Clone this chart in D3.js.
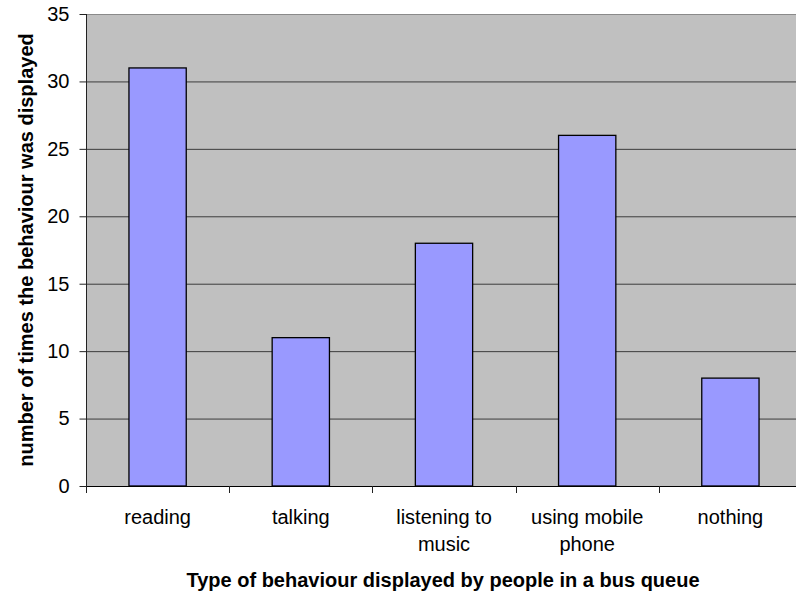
<!DOCTYPE html>
<html>
<head>
<meta charset="utf-8">
<script src="https://cdn.jsdelivr.net/npm/d3@7"></script>
<style>
  body { margin: 0; background: #fff; overflow: hidden; }
  svg { display: block; font-family: "Liberation Sans", Arial, sans-serif; }
</style>
</head>
<body>
<svg id="chart" width="796" height="593"></svg>
<script>
// data
const behaviours = ["reading", "talking", "listening to music", "using mobile phone", "nothing"];
const behaviourLines = [["reading"], ["talking"], ["listening to", "music"], ["using mobile", "phone"], ["nothing"]];
const counts = [31, 11, 18, 26, 8];
const yTicks = [0, 5, 10, 15, 20, 25, 30, 35];

const svg = d3.select("#chart"),
    margin = { top: 14, right: -6, bottom: 107, left: 86 },
    W = +svg.attr("width"),
    H = +svg.attr("height");

const x = d3.scaleBand()
    .domain(behaviours)
    .range([margin.left, W - margin.right])
    .paddingInner(0.6)
    .paddingOuter(0.3);

const y = d3.scaleLinear()
    .domain([0, 35])
    .range([H - margin.bottom, margin.top]);

// plot background
svg.append("rect")
    .attr("x", margin.left)
    .attr("y", margin.top)
    .attr("width", W - margin.right - margin.left)
    .attr("height", y(0) - margin.top)
    .attr("fill", "#c0c0c0");

// gridlines
svg.append("g")
  .selectAll("line")
  .data(yTicks.filter(d => d > 0))
  .enter().append("line")
    .attr("x1", margin.left)
    .attr("x2", W)
    .attr("y1", d => y(d) + 0.5)
    .attr("y2", d => y(d) + 0.5)
    .attr("stroke", d => d == 35 ? "#8a8a8a" : "#3c3c3c")
    .attr("stroke-width", 1);

// bars
svg.append("g")
  .selectAll("rect")
  .data(counts)
  .enter().append("rect")
    .attr("x", (d, i) => x(behaviours[i]))
    .attr("y", d => y(d))
    .attr("width", x.bandwidth())
    .attr("height", d => y(0) - y(d))
    .attr("fill", "#9999ff")
    .attr("stroke", "#000")
    .attr("stroke-width", 1.3);

// y axis
const yAxis = svg.append("g")
    .attr("transform", "translate(" + (margin.left + 0.5) + ",0)")
    .call(d3.axisLeft(y).tickValues(yTicks).tickSize(7).tickPadding(10));
yAxis.select(".domain").attr("stroke", "#222").attr("d", "M0," + margin.top + "V" + y(0));
yAxis.selectAll(".tick line").attr("stroke", "#222");
yAxis.selectAll("text")
    .attr("font-size", 20)
    .attr("font-family", "Liberation Sans, Arial, sans-serif")
    .attr("fill", "#000");

// x axis line + boundary ticks
const gap = (x.step() - x.bandwidth()) / 2;
const bounds = behaviours.map(d => x(d) - gap);
svg.append("line")
    .attr("x1", margin.left)
    .attr("x2", W)
    .attr("y1", y(0) + 0.5)
    .attr("y2", y(0) + 0.5)
    .attr("stroke", "#000");
svg.append("g")
  .selectAll("line")
  .data(bounds)
  .enter().append("line")
    .attr("x1", d => Math.round(d) + 0.5)
    .attr("x2", d => Math.round(d) + 0.5)
    .attr("y1", y(0))
    .attr("y2", y(0) + 7)
    .attr("stroke", "#222");

// category labels
const lbl = svg.append("g")
  .selectAll("text")
  .data(behaviours)
  .enter().append("text")
    .attr("x", d => x(d) + x.bandwidth() / 2)
    .attr("y", y(0) + 38)
    .attr("text-anchor", "middle")
    .attr("font-size", 20)
    .attr("fill", "#000");
lbl.selectAll("tspan")
    .data((d, i) => behaviourLines[i])
    .enter().append("tspan")
    .attr("x", function() { return d3.select(this.parentNode).attr("x"); })
    .attr("dy", (d, i) => i == 0 ? 0 : 27)
    .text(d => d);

// axis titles
svg.append("text")
    .attr("x", 443)
    .attr("y", 587)
    .attr("text-anchor", "middle")
    .attr("font-size", 20)
    .attr("font-weight", "bold")
    .text("Type of behaviour displayed by people in a bus queue");

svg.append("text")
    .attr("transform", "translate(33," + ((margin.top + y(0)) / 2) + ") rotate(-90)")
    .attr("text-anchor", "middle")
    .attr("font-size", 20)
    .attr("font-weight", "bold")
    .text("number of times the behaviour was displayed");
</script>
</body>
</html>
